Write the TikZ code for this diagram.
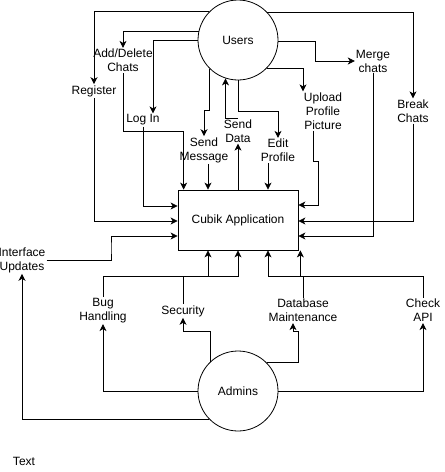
\documentclass[tikz,border=0pt]{standalone}
\usepackage{fontspec}
\setmainfont{Liberation Sans}
\usetikzlibrary{arrows.meta}
\begin{document}
\begin{tikzpicture}[x=1pt,y=-1pt,
  every node/.style={font=\fontsize{12}{14}\selectfont},
  lbl/.style={align=center,inner sep=1pt},
  proc/.style={circle,draw,minimum size=80pt,inner sep=0pt,line width=0.8pt},
  app/.style={rectangle,draw,minimum width=120pt,minimum height=60pt,line width=0.8pt},
  arr/.style={line width=0.8pt,-{Stealth[length=7pt,width=7pt,inset=2pt]}},
  ln/.style={line width=0.8pt}]
\useasboundingbox (0,0) rectangle (445,472);
\node[proc] (users) at (238,40) {Users};
\node[proc] (admins) at (238,391) {Admins};
\node[app] (cubik) at (238,220) {Cubik Application};
\node[lbl] (adc) at (123,60.5) {Add/Delete\\Chats};
\node[lbl] (reg) at (94,91) {Register};
\node[lbl] (login) at (143,120) {Log In};
\node[lbl] (sendm) at (204,150) {Send\\Message};
\node[lbl] (sendd) at (238,131) {Send\\Data};
\node[lbl] (edit) at (278,150.5) {Edit\\Profile};
\node[lbl] (upload) at (323,111) {Upload\\Profile\\Picture};
\node[lbl] (merge) at (373,61) {Merge\\chats};
\node[lbl] (break) at (413,111) {Break\\Chats};
\node[lbl] (iface) at (22,260) {Interface\\Updates};
\node[lbl] (bug) at (103,310.5) {Bug\\Handling};
\node[lbl] (sec) at (183,311) {Security};
\node[lbl] (db) at (303,310.5) {Database\\Maintenance};
\node[lbl] (api) at (423,310.5) {Check\\API};
\node[lbl] (txt) at (24,461) {Text};
% Users -> labels
\draw[arr] (users.135.6) -| (reg.north);
\draw[arr] (users.167) -| (adc.north);
\draw[arr] (users.181) -| ([xshift=10pt]login.north);
\draw[arr] (users.225.6) |- (sendm.north |- 0,110) -- (sendm.north);
\draw[arr] (sendd.north) -| (users.252.5);
\draw[arr] (users.south) |- (edit.north |- 0,111) -- (edit.north);
\draw[arr] (users.315.6) -| ([xshift=-20pt]upload.north);
\draw[arr] (users.358.6) -| (315,61) -- (merge.west);
\draw[arr] (users.44.4) -| (break.north);
% labels -> Cubik
\draw[arr] (reg.south) |- ([yshift=-1pt]cubik.west);
\draw[arr] (adc.south) -- (123,131) -| ([xshift=6pt]cubik.north west);
\draw[arr] (login.south) |- ([yshift=14pt]cubik.west);
\draw[arr] ([xshift=4pt]sendm.south) -- ([xshift=4pt]sendm.south |- cubik.north);
\draw[arr] (cubik.north) -- (sendd.south);
\draw[arr] ([xshift=-10pt]edit.south) -- ([xshift=-10pt]edit.south |- cubik.north);
\draw[arr] ([xshift=-10pt]upload.south) |- (318,161) |- ([yshift=15pt]cubik.east);
\draw[arr] (merge.south) |- ([yshift=-16pt]cubik.east);
\draw[arr] (break.south) |- ([yshift=-1pt]cubik.east);
\draw[arr] (iface.east) -| (111,248) |- ([yshift=-16pt]cubik.west);
% Admins -> labels
\draw[arr] (admins.224.4) -| (iface.south);
\draw[arr] (admins.west) -| (bug.south);
\draw[arr] (admins.134.4) |- (sec.south |- 0,331) -- (sec.south);
\draw[arr] (admins.45.6) -| (298,331) -| ([xshift=-10pt]db.south);
\draw[arr] (admins.east) -| (api.south);
% bottom labels -> Cubik
\draw[arr] (bug.north) |- (cubik.south |- 0,276) -- (cubik.south);
\draw[arr] (sec.north) |- ([xshift=-30pt]cubik.south |- 0,276) -- ([xshift=-30pt]cubik.south);
\draw[arr] (db.north) |- ([xshift=30pt]cubik.south |- 0,276) -- ([xshift=30pt]cubik.south);
\draw[arr] (api.north) |- ([xshift=2pt]cubik.south east |- 0,276) -- ([xshift=2pt]cubik.south east);
\end{tikzpicture}
\end{document}
